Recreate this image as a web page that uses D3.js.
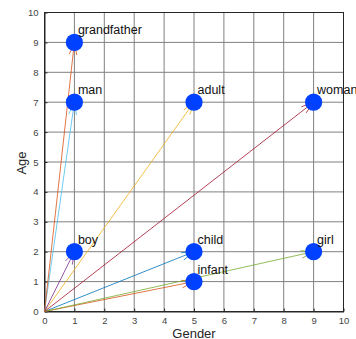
<!DOCTYPE html>
<html><head><meta charset="utf-8">
<script src="https://cdn.jsdelivr.net/npm/d3@7"></script>
<style>body{margin:0;background:#fff;} svg{display:block;font-family:"Liberation Sans",Arial,Helvetica,sans-serif;}</style>
</head><body>
<svg id="c" width="356" height="339"></svg>
<script>
const titleText = "Simple example of words by gender and age, family";
const words = ["child","infant","adult","boy","girl","man","woman","grandfather"];
const gender = [5,5,5,1,9,1,9,1];
const age = [2,1,7,2,2,7,7,9];
const arrowColors = ["#0072BD","#D95319","#EDB120","#7E2F8E","#77AC30","#4DBEEE","#A2142F","#D95319"];
const xTicks = [0,1,2,3,4,5,6,7,8,9,10];
const yTicks = [0,1,2,3,4,5,6,7,8,9,10];

const svg = d3.select("#c");
const x = d3.scaleLinear().domain([0,10]).range([44.5,343.5]);
const y = d3.scaleLinear().domain([0,10]).range([311.5,12.5]);

// grid
const g = svg.append("g");
g.selectAll(".gx").data(xTicks).join("line")
  .attr("x1",d=>x(d)).attr("x2",d=>x(d)).attr("y1",y(0)).attr("y2",y(10))
  .attr("stroke","#808080").attr("stroke-width",1);
g.selectAll(".gy").data(yTicks).join("line")
  .attr("y1",d=>y(d)).attr("y2",d=>y(d)).attr("x1",x(0)).attr("x2",x(10))
  .attr("stroke","#808080").attr("stroke-width",1);

// axes
const ax = svg.append("g").attr("transform",`translate(0,${y(0)})`)
  .call(d3.axisBottom(x).tickValues(xTicks).tickSizeInner(-3).tickSizeOuter(0).tickPadding(6));
const ay = svg.append("g").attr("transform",`translate(${x(0)},0)`)
  .call(d3.axisLeft(y).tickValues(yTicks).tickSizeInner(-3).tickSizeOuter(0).tickPadding(6));
[ax,ay].forEach(a=>{
  a.select(".domain").attr("stroke","#262626");
  a.selectAll(".tick line").attr("stroke","#262626");
  a.selectAll(".tick text").attr("fill","#444").style("font-size","9.5px").style("font-family","Liberation Sans, Arial, sans-serif");
});
// box top/right
svg.append("rect").attr("x",x(0)).attr("y",y(10)).attr("width",x(10)-x(0)).attr("height",y(0)-y(10))
  .attr("fill","none").attr("stroke","#262626").attr("stroke-width",1);

// arrows
const arrows = svg.append("g");
words.forEach((w,i)=>{
  const x0=x(0), y0=y(0), x1=x(gender[i]), y1=y(age[i]);
  const ang = Math.atan2(y1-y0, x1-x0);
  const L=13, a=0.3;
  const p1=[x1-L*Math.cos(ang-a), y1-L*Math.sin(ang-a)];
  const p2=[x1-L*Math.cos(ang+a), y1-L*Math.sin(ang+a)];
  arrows.append("path")
    .attr("d",`M${x0},${y0}L${x1},${y1}M${p1[0]},${p1[1]}L${x1},${y1}L${p2[0]},${p2[1]}`)
    .attr("fill","none").attr("stroke",arrowColors[i]).attr("stroke-width",0.8);
});

// markers
svg.append("g").selectAll("circle").data(words).join("circle")
  .attr("cx",(d,i)=>x(gender[i])).attr("cy",(d,i)=>y(age[i])).attr("r",8.6)
  .attr("fill","#0040ff");

// labels
svg.append("g").selectAll("text").data(words).join("text")
  .attr("x",(d,i)=>x(gender[i])+3.5).attr("y",(d,i)=>y(age[i])-8)
  .attr("fill","#111").style("font-size","12.5px").text(d=>d);

// axis labels
svg.append("text").attr("x",194).attr("y",337.5).attr("text-anchor","middle")
  .attr("fill","#262626").style("font-size","13px").text("Gender");
svg.append("text").attr("transform","translate(26,163) rotate(-90)").attr("text-anchor","middle")
  .attr("fill","#262626").style("font-size","13px").text("Age");

// title (mostly cut off above)
svg.append("text").attr("x",143).attr("y",-3).attr("text-anchor","middle")
  .attr("fill","#000").style("font-size","17px").style("font-weight","bold").text(titleText);
</script>
</body></html>
